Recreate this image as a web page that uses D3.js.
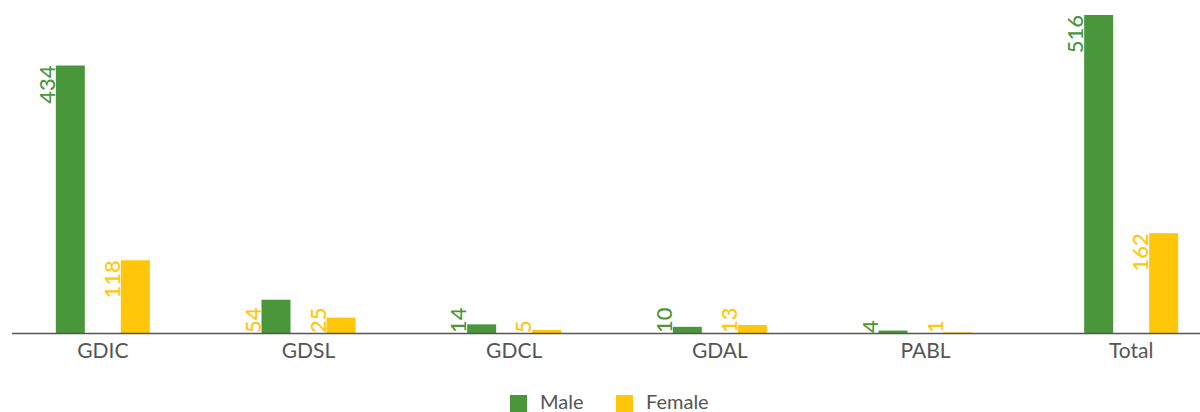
<!DOCTYPE html>
<html>
<head>
<meta charset="utf-8">
<script src="https://cdn.jsdelivr.net/npm/d3@7"></script>
<style>
 body { margin: 0; background: #fff; }
 text { font-family: Lato, "Open Sans", sans-serif; }
</style>
</head>
<body>
<div id="chart"></div>
<script>
var categories = ["GDIC", "GDSL", "GDCL", "GDAL", "PABL", "Total"];
var maleValues = [434, 54, 14, 10, 4, 516];
var femaleValues = [118, 25, 5, 13, 1, 162];
var seriesNames = ["Male", "Female"];
var colors = { Male: "#4a963a", Female: "#ffc60a" };

var svgWidth = 1200;
var svgHeight = 412;

var data = categories.map(function (c, i) {
  return { cat: c, Male: maleValues[i], Female: femaleValues[i] };
});

var svg = d3.select("#chart")
  .append("svg")
  .attr("width", svgWidth)
  .attr("height", svgHeight);

// the bands run a little past the right edge of the window
var x = d3.scaleBand()
  .domain(categories)
  .range([0, 1234]);

var groupWidth = 94;
var xSub = d3.scaleBand()
  .domain(seriesNames)
  .range([0, groupWidth])
  .paddingInner(36 / 65);

var y = d3.scaleLinear()
  .domain([0, 516])
  .range([333, 15]);

var groups = svg.append("g")
  .selectAll("g")
  .data(data)
  .enter()
  .append("g")
  .attr("transform", function (d) {
    return "translate(" + (x(d.cat) + x.bandwidth() / 2 - groupWidth / 2) + ",0)";
  });

var bars = groups.selectAll("g")
  .data(function (d) {
    return seriesNames.map(function (s) { return { key: s, value: d[s], cat: d.cat }; });
  })
  .enter()
  .append("g");

bars.append("rect")
  .attr("x", function (d) { return xSub(d.key); })
  .attr("y", function (d) { return y(d.value); })
  .attr("width", xSub.bandwidth())
  .attr("height", function (d) { return y(0) - y(d.value); })
  .style("fill", function (d) { return colors[d.key]; });

// value labels, turned upright, just left of each bar
var labels = bars.append("text")
  .attr("text-anchor", "end")
  .style("font-size", "22px")
  .style("font-weight", 500)
  .style("fill", function (d) {
    // the source draws the GDSL male label in yellow
    if (d.cat == "GDSL" && d.key == "Male") return colors.Female;
    return colors[d.key];
  })
  .text(function (d) { return d.value; });

labels.each(function (d) {
  var len = this.getComputedTextLength();
  var h = y(0) - y(d.value);
  var t = d3.select(this);
  if (h > len + 12) {
    t.attr("transform", "translate(" + (xSub(d.key) - 1) + "," + y(d.value) + ") rotate(-90)");
  } else {
    // too short: sit the label on the axis
    t.attr("text-anchor", "start")
      .attr("transform", "translate(" + (xSub(d.key) - 1) + "," + y(0) + ") rotate(-90)");
  }
});

// x axis
var xAxis = svg.append("g")
  .attr("transform", "translate(0," + y(0) + ")")
  .call(d3.axisBottom(x).tickSize(0).tickPadding(10));
xAxis.select(".domain").remove();
xAxis.append("line")
  .attr("x1", 12).attr("x2", 1200)
  .attr("y1", 0.5).attr("y2", 0.5)
  .style("stroke", "#555")
  .style("stroke-width", 1.5);
xAxis.selectAll("text")
  .style("font-family", "Lato, sans-serif")
  .style("font-size", "21px")
  .style("fill", "#555");

// legend
var legendX = [510, 616];
var legend = svg.append("g")
  .selectAll("g")
  .data(seriesNames)
  .enter()
  .append("g")
  .attr("transform", function (d, i) { return "translate(" + legendX[i] + ",395)"; });
legend.append("rect")
  .attr("width", 17)
  .attr("height", 17)
  .style("fill", function (d) { return colors[d]; });
legend.append("text")
  .attr("x", 30)
  .attr("y", 14)
  .style("font-size", "20px")
  .style("fill", "#555")
  .text(function (d) { return d; });
</script>
</body>
</html>
